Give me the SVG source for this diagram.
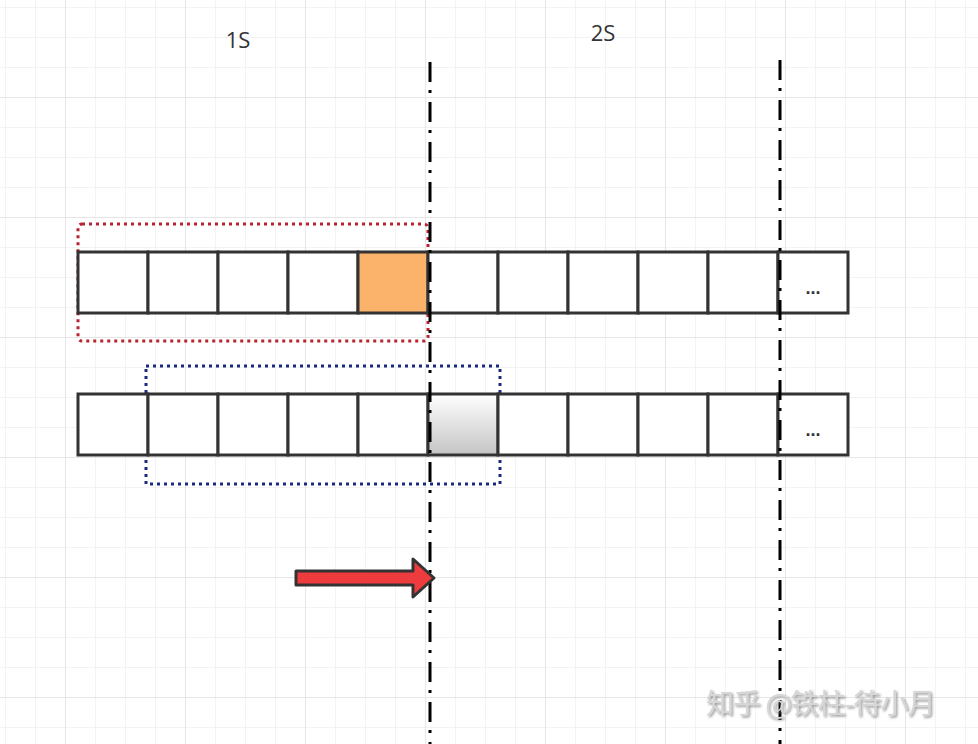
<svg xmlns="http://www.w3.org/2000/svg" width="978" height="744" viewBox="0 0 978 744">
<defs>
<pattern id="minor" width="30" height="30" patternUnits="userSpaceOnUse" x="5" y="7">
<path d="M0 0H30M0 0V30" fill="none" stroke="#f0f0f0" stroke-width="1.5"/>
</pattern>
<pattern id="major" width="120" height="120" patternUnits="userSpaceOnUse" x="65" y="97">
<path d="M0 0H120M0 0V120" fill="none" stroke="#e6e6e6" stroke-width="2"/>
</pattern>
<linearGradient id="g" x1="0" y1="0" x2="0" y2="1">
<stop offset="0" stop-color="#ffffff"/>
<stop offset="1" stop-color="#c4c4c4"/>
</linearGradient>
<filter id="sh" x="-10%" y="-30%" width="120%" height="160%">
<feDropShadow dx="1.5" dy="1.5" stdDeviation="0.8" flood-color="#777" flood-opacity="0.8"/>
</filter>
</defs>
<style>
.cell{fill:#fff;stroke:#333;stroke-width:3}
.lbl{font-family:"Open Sans","Noto Sans",sans-serif;font-size:22px;fill:#333}
.dots{font-family:"Liberation Sans",sans-serif;font-size:18px;font-weight:bold;fill:#333}
.dd{stroke:#000;stroke-width:3;stroke-dasharray:20 8 3 9;fill:none}
</style>
<rect width="978" height="744" fill="#fff"/>
<rect width="978" height="744" fill="url(#minor)"/>
<rect width="978" height="744" fill="url(#major)"/>

<text class="lbl" x="238" y="48" text-anchor="middle">1S</text>
<text class="lbl" x="603" y="41" text-anchor="middle">2S</text>

<g id="window1">
<rect x="78" y="224" width="350" height="117" rx="4" fill="none" stroke="#b8232f" stroke-width="3" stroke-dasharray="3 4"/>
</g>
<g id="window2">
<rect x="146" y="366" width="354" height="118" fill="none" stroke="#1a2a80" stroke-width="3" stroke-dasharray="3 4"/>
</g>

<g id="row1">
<rect class="cell" x="78" y="252" width="70" height="61"/>
<rect class="cell" x="148" y="252" width="70" height="61"/>
<rect class="cell" x="218" y="252" width="70" height="61"/>
<rect class="cell" x="288" y="252" width="70" height="61"/>
<rect class="cell" x="358" y="252" width="70" height="61" style="fill:#fbb36b"/>
<rect class="cell" x="428" y="252" width="70" height="61"/>
<rect class="cell" x="498" y="252" width="70" height="61"/>
<rect class="cell" x="568" y="252" width="70" height="61"/>
<rect class="cell" x="638" y="252" width="70" height="61"/>
<rect class="cell" x="708" y="252" width="70" height="61"/>
<rect class="cell" x="778" y="252" width="70" height="61"/>
<text class="dots" x="813" y="294" text-anchor="middle">...</text>
</g>

<g id="row2">
<rect class="cell" x="78" y="394" width="70" height="61"/>
<rect class="cell" x="148" y="394" width="70" height="61"/>
<rect class="cell" x="218" y="394" width="70" height="61"/>
<rect class="cell" x="288" y="394" width="70" height="61"/>
<rect class="cell" x="358" y="394" width="70" height="61"/>
<rect class="cell" x="428" y="394" width="70" height="61" style="fill:url(#g)"/>
<rect class="cell" x="498" y="394" width="70" height="61"/>
<rect class="cell" x="568" y="394" width="70" height="61"/>
<rect class="cell" x="638" y="394" width="70" height="61"/>
<rect class="cell" x="708" y="394" width="70" height="61"/>
<rect class="cell" x="778" y="394" width="70" height="61"/>
<text class="dots" x="813" y="436" text-anchor="middle">...</text>
</g>

<g id="connectors">
<line class="dd" x1="430" y1="62" x2="430" y2="744"/>
<line class="dd" x1="780" y1="60" x2="780" y2="744"/>
<path d="M296 571 H413 V559 L434 578 L413 597 V585 H296 Z" fill="#ee3b3e" stroke="#333" stroke-width="3" stroke-linejoin="round"/>
</g>

<text x="706" y="714" font-family="Noto Sans CJK SC, sans-serif" font-size="28" letter-spacing="-1" fill="#d6d6d6" filter="url(#sh)">知乎 @铁柱-待小月</text>
</svg>
